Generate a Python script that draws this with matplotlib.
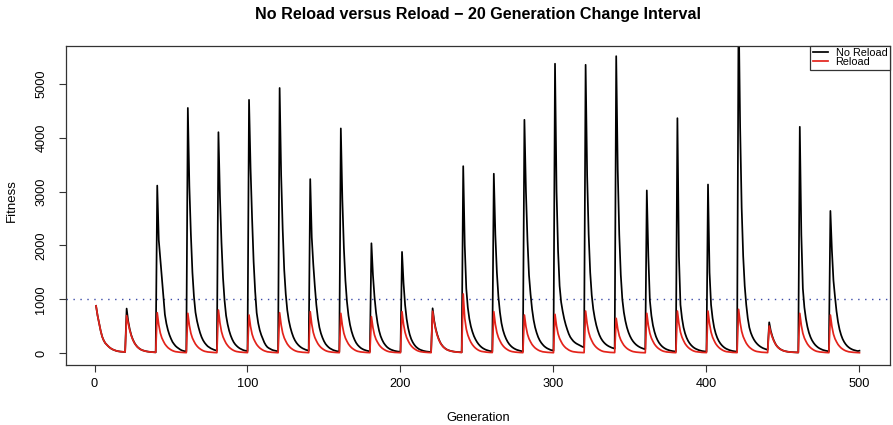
import numpy as np
import matplotlib
matplotlib.use("Agg")
import matplotlib.pyplot as plt

plt.rcParams['font.family'] = ['Liberation Sans', 'DejaVu Sans']

title = "No Reload versus Reload \u2212 20 Generation Change Interval"
x_label = "Generation"
y_label = "Fitness"
series_labels = ["No Reload", "Reload"]
threshold = 1000
x_ticks = [0, 100, 200, 300, 400, 500]
y_ticks = [0, 1000, 2000, 3000, 4000, 5000]

generation = np.arange(1, 501)

no_reload = [
    880, 700, 560, 420, 310, 240, 190, 160, 130, 105, 85, 70, 58, 48, 40, 35, 31, 28, 26, 24,
    830, 600, 450, 340, 260, 200, 155, 120, 95, 75, 60, 50, 42, 36, 31, 27, 24, 22, 20, 18,
    3110, 2100, 1750, 1400, 1050, 720, 550, 430, 340, 270, 210, 170, 135, 110, 90, 70, 55, 45, 38, 32,
    4550, 3100, 2200, 1500, 1050, 760, 600, 480, 380, 300, 240, 195, 160, 130, 110, 92, 78, 66, 56, 48,
    4100, 2900, 2050, 1400, 980, 700, 540, 420, 330, 260, 205, 165, 135, 110, 90, 75, 62, 52, 45, 40,
    4700, 3430, 2500, 1700, 1150, 750, 560, 430, 340, 270, 200, 150, 115, 95, 80, 65, 55, 48, 42, 38,
    4920, 3300, 2300, 1550, 1100, 800, 610, 480, 380, 300, 240, 195, 160, 132, 110, 92, 78, 66, 56, 48,
    3230, 2150, 1650, 1250, 900, 650, 480, 370, 290, 225, 175, 140, 112, 90, 74, 60, 50, 42, 36, 30,
    4170, 2850, 1950, 1350, 960, 700, 530, 410, 320, 250, 195, 155, 125, 100, 82, 68, 57, 48, 41, 35,
    2040, 1450, 1050, 760, 560, 420, 320, 250, 195, 155, 122, 98, 80, 66, 55, 46, 39, 34, 30, 26,
    1880, 1300, 900, 640, 470, 350, 265, 205, 160, 125, 100, 80, 65, 54, 45, 38, 33, 29, 26, 23,
    835, 610, 460, 350, 265, 200, 155, 120, 95, 75, 60, 50, 42, 36, 31, 27, 24, 22, 20, 18,
    3470, 2000, 1200, 850, 640, 500, 400, 320, 260, 210, 170, 138, 112, 92, 76, 63, 53, 45, 39, 34,
    3330, 2200, 1500, 1050, 760, 560, 430, 340, 270, 215, 172, 140, 114, 94, 78, 65, 55, 47, 40, 35,
    4330, 3000, 2100, 1450, 1100, 820, 620, 480, 380, 300, 240, 195, 160, 130, 108, 90, 76, 64, 55, 48,
    5370, 3000, 1900, 1250, 950, 780, 640, 530, 440, 360, 300, 260, 225, 200, 180, 165, 150, 135, 120, 110,
    5350, 3300, 2200, 1500, 1080, 820, 650, 520, 420, 340, 280, 235, 200, 172, 150, 132, 118, 105, 95, 86,
    5510, 3400, 2200, 1450, 1000, 760, 600, 480, 390, 320, 265, 222, 188, 160, 138, 120, 105, 93, 83, 75,
    3020, 1800, 980, 700, 520, 400, 310, 245, 195, 158, 128, 105, 87, 72, 61, 52, 45, 40, 36, 33,
    4360, 1800, 900, 650, 480, 370, 290, 230, 185, 150, 122, 100, 83, 70, 59, 50, 43, 38, 34, 31,
    3130, 1500, 900, 650, 480, 370, 290, 230, 185, 150, 122, 100, 83, 70, 59, 50, 43, 38, 34, 31,
    6500, 4200, 2700, 1800, 1250, 900, 650, 480, 380, 310, 255, 212, 178, 150, 128, 110, 95, 83, 73, 65,
    575, 420, 320, 240, 180, 135, 105, 82, 65, 52, 42, 35, 30, 26, 23, 21, 19, 17, 16, 15,
    4200, 2200, 1200, 850, 640, 490, 380, 300, 240, 195, 158, 130, 107, 89, 75, 63, 54, 47, 41, 36,
    2640, 1900, 1350, 1050, 780, 580, 440, 340, 265, 210, 168, 135, 110, 90, 75, 63, 54, 47, 41, 48,
]

reload_vals = [
    880, 700, 560, 420, 310, 240, 190, 160, 130, 105, 85, 70, 58, 48, 40, 35, 31, 28, 26, 24,
    700, 560, 430, 330, 255, 195, 152, 118, 93, 74, 59, 49, 41, 35, 30, 26, 23, 21, 19, 17,
    753, 527, 377, 286, 226, 173, 136, 105, 83, 64, 49, 38, 30, 26, 22, 19, 17, 15, 14, 12,
    742, 519, 371, 282, 223, 171, 134, 104, 82, 63, 48, 37, 30, 25, 22, 19, 16, 15, 13, 12,
    803, 562, 402, 305, 241, 185, 145, 112, 88, 68, 52, 40, 32, 27, 23, 20, 18, 16, 14, 13,
    710, 497, 355, 270, 213, 163, 128, 99, 78, 60, 46, 36, 28, 24, 21, 18, 16, 14, 13, 11,
    753, 527, 377, 286, 226, 173, 136, 105, 83, 64, 49, 38, 30, 26, 22, 19, 17, 15, 14, 12,
    772, 540, 386, 293, 232, 178, 139, 108, 85, 66, 50, 39, 31, 26, 22, 19, 17, 15, 14, 12,
    742, 519, 371, 282, 223, 171, 134, 104, 82, 63, 48, 37, 30, 25, 22, 19, 16, 15, 13, 12,
    680, 476, 340, 258, 204, 156, 122, 95, 75, 58, 44, 34, 27, 23, 20, 17, 15, 14, 12, 11,
    772, 540, 386, 293, 232, 178, 139, 108, 85, 66, 50, 39, 31, 26, 22, 19, 17, 15, 14, 12,
    780, 580, 440, 335, 255, 195, 150, 117, 92, 73, 58, 48, 40, 34, 29, 25, 22, 20, 18, 16,
    1100, 650, 450, 340, 265, 205, 160, 125, 97, 75, 57, 44, 35, 30, 26, 22, 19, 17, 16, 14,
    772, 540, 386, 293, 232, 178, 139, 108, 85, 66, 50, 39, 31, 26, 22, 19, 17, 15, 14, 12,
    710, 497, 355, 270, 213, 163, 128, 99, 78, 60, 46, 36, 28, 24, 21, 18, 16, 14, 13, 11,
    723, 506, 362, 275, 217, 166, 130, 101, 80, 61, 47, 36, 29, 25, 21, 18, 16, 14, 13, 12,
    784, 549, 392, 298, 235, 180, 141, 110, 86, 67, 51, 39, 31, 27, 23, 20, 17, 16, 14, 13,
    649, 454, 325, 247, 195, 149, 117, 91, 71, 55, 42, 32, 26, 22, 19, 16, 14, 13, 12, 10,
    742, 519, 371, 282, 223, 171, 134, 104, 82, 63, 48, 37, 30, 25, 22, 19, 16, 15, 13, 12,
    784, 549, 392, 298, 235, 180, 141, 110, 86, 67, 51, 39, 31, 27, 23, 20, 17, 16, 14, 13,
    784, 549, 392, 298, 235, 180, 141, 110, 86, 67, 51, 39, 31, 27, 23, 20, 17, 16, 14, 13,
    816, 571, 408, 310, 245, 188, 147, 114, 90, 69, 53, 41, 33, 28, 24, 20, 18, 16, 15, 13,
    506, 390, 300, 230, 175, 132, 102, 80, 64, 51, 41, 34, 29, 25, 22, 20, 18, 17, 16, 15,
    742, 519, 371, 282, 223, 171, 134, 104, 82, 63, 48, 37, 30, 25, 22, 19, 16, 15, 13, 12,
    710, 497, 355, 270, 213, 163, 128, 99, 78, 60, 46, 36, 28, 24, 21, 18, 16, 14, 13, 11,
]

W, H = 893, 425
fig = plt.figure(figsize=(W / 100, H / 100), dpi=100)
left, right, top, bottom = 65.5, 890, 45.5, 365
ax = fig.add_axes([left / W, 1 - bottom / H, (right - left) / W, (bottom - top) / H])

ax.plot(generation, no_reload, color='black', lw=1.25, label=series_labels[0], zorder=2)
ax.plot(generation, reload_vals, color='#e3231b', lw=1.25, label=series_labels[1], zorder=3)
ax.axhline(threshold, color='#3a4aa8', lw=1.0, linestyle=(0, (1, 4)), zorder=1)

ax.set_xlim(-18.96, 519.96)
ax.set_ylim(-217, 5708)
ax.set_xticks(x_ticks)
ax.set_yticks(y_ticks)
ax.set_xticklabels([str(v) for v in x_ticks], fontsize=9.2)
ax.set_yticklabels([str(v) for v in y_ticks], fontsize=9.2, rotation=90, va='center')
ax.tick_params(axis='both', direction='out', length=5, width=0.8, color='#333333')
ax.tick_params(axis='x', pad=4.5)
ax.tick_params(axis='y', pad=8)
for s in ax.spines.values():
    s.set_linewidth(0.9)
    s.set_color('#333333')

leg = ax.legend(loc='upper right', fontsize=7.8, frameon=True, fancybox=False,
                edgecolor='#333333', framealpha=1, borderaxespad=0, borderpad=0.25,
                labelspacing=-0.1, handlelength=1.4, handletextpad=0.7)
leg.get_frame().set_linewidth(0.9)

fig.text(477.8 / W, 1 - 15 / H, title, ha='center', va='center', fontsize=11.6, fontweight='bold')
fig.text(477.8 / W, 1 - 418 / H, x_label, ha='center', va='center', fontsize=9.3)
fig.text(12 / W, 1 - 201 / H, y_label, ha='center', va='center', fontsize=9.5, rotation=90)

fig.savefig("out.png", dpi=100)
